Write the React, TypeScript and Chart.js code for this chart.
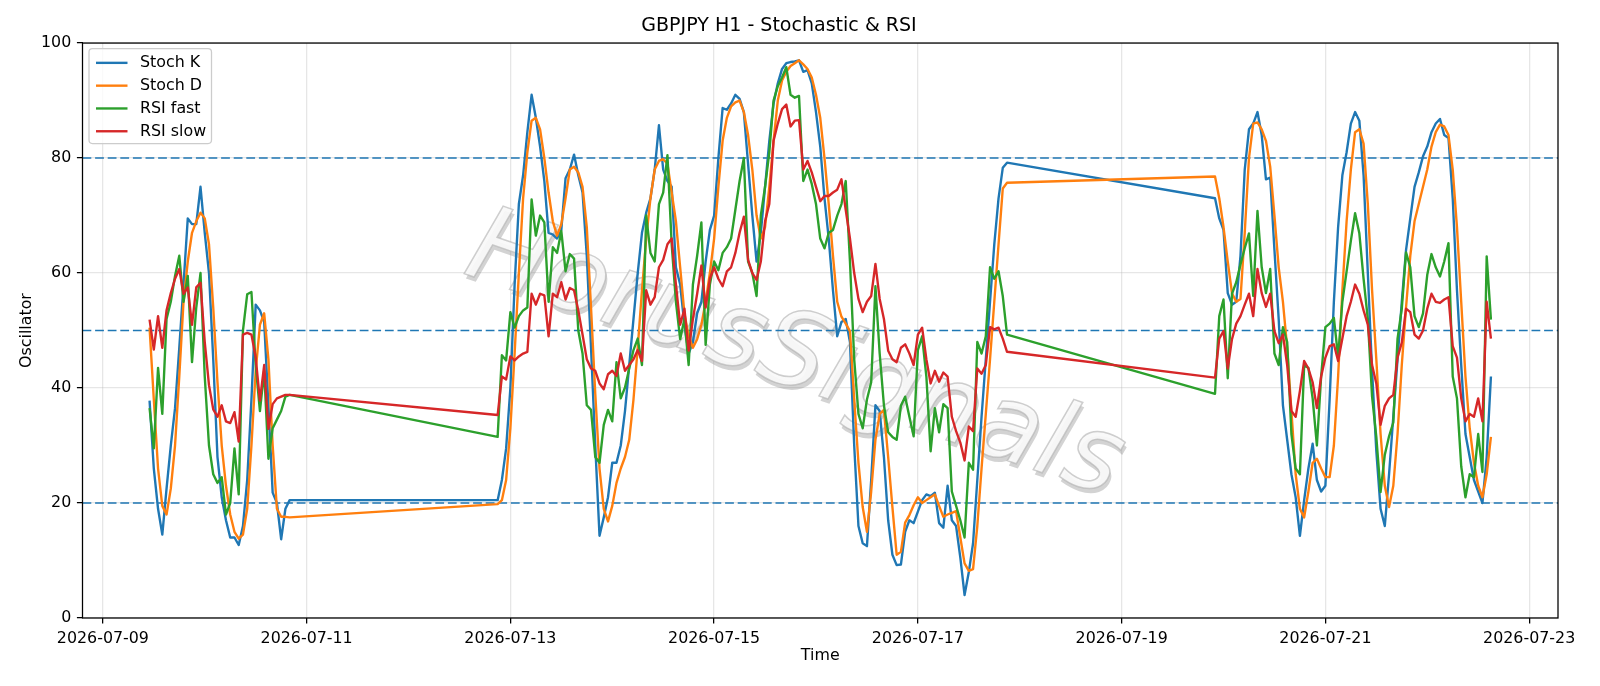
import React, { useEffect, useRef } from 'react';
import { Chart, registerables } from 'chart.js';

Chart.register(...registerables);

const TITLE = 'GBPJPY H1 - Stochastic & RSI';
const X_LABEL = 'Time';
const Y_LABEL = 'Oscillator';
const WATERMARK = 'HorusSignals';

// hourly bars, three trading stretches separated by weekends
const SEGMENT_STARTS = ['2026-07-09T11:00:00Z', '2026-07-12T21:00:00Z', '2026-07-19T22:00:00Z'];
const SEGMENT_LENGTHS = [34, 121, 66];

const X_TICK_DATES = ['2026-07-09', '2026-07-11', '2026-07-13', '2026-07-15', '2026-07-17', '2026-07-19', '2026-07-21', '2026-07-23'];
const Y_TICKS = [0, 20, 40, 60, 80, 100];
const LEVELS = [20, 50, 80];

const SERIES_NAMES = ['Stoch K', 'Stoch D', 'RSI fast', 'RSI slow'];
const SERIES_COLORS = ['#1f77b4', '#ff7f0e', '#2ca02c', '#d62728'];

const STOCH_K = [
  37.8, 26, 19, 14.5, 22.5, 30, 36.5, 47, 58, 69.5,
  68.5, 68.5, 75, 67, 60, 45, 28, 21, 17, 14,
  14, 12.7, 16, 24, 38, 54.5, 53.5, 51.5, 37, 21.8,
  20, 13.7, 19, 20.5,
  20.5, 24, 29.5, 40, 58, 72, 77, 84.5, 91, 87,
  82, 76, 67, 66.7, 66, 67.5, 76.5, 78, 80.6, 77,
  74, 63, 47, 30, 14.3, 17.5, 21, 27, 27, 30,
  36, 44, 52, 60, 67, 70.5, 73, 78, 85.7, 78,
  76, 75, 61, 58, 51, 46, 48, 53, 55, 62,
  67.5, 70, 80, 88.7, 88.4, 89.5, 91, 90.3, 88, 79,
  70, 62, 67, 75, 83, 89.5, 93, 95.5, 96.5, 96.7,
  96.8, 97, 95, 95.3, 93, 88, 82, 73, 66, 57,
  49, 51.5, 52, 48, 30, 16, 13, 12.5, 24, 37,
  36, 28, 17, 11, 9.2, 9.3, 15, 17, 16.5, 18.5,
  20.5, 21.5, 21.2, 21.8, 16.5, 15.7, 23, 17, 16, 10.5,
  4, 8, 13, 24, 35, 45, 55, 65, 73, 78.3,
  79.2,
  73, 69.5, 67.5, 56.5, 54.5, 55, 63, 78, 85, 86,
  88, 84, 76.3, 76.6, 64, 52, 37, 31, 25, 21,
  14.3, 20.5, 26, 30.3, 24, 22, 23, 38, 55, 68,
  77, 81, 86, 88, 86.5, 77, 60, 43, 29, 19,
  16, 25, 35, 45, 55, 64, 69.5, 75, 77.5, 80.3,
  82, 84.5, 86, 86.8, 84, 83.5, 73, 57, 44, 32,
  28, 24, 22, 20, 28, 42,
];

const STOCH_D = [
  50.5, 38, 26, 19.5, 18, 22.5, 30, 42, 55, 62,
  67, 69, 70.5, 69.5, 65, 54, 41, 30, 23, 18,
  15, 13.8, 14.5, 19, 30, 43, 51, 53, 45, 30,
  19, 17.6, 17.6, 17.5,
  19.8, 20.5, 24, 33, 46, 60, 73, 81, 86.5, 87,
  85, 80, 74, 69, 66.5, 68.5, 73, 78, 78.5, 77.5,
  75, 68, 54, 39, 26, 19, 16.8, 19.5, 23.5, 26,
  28, 31, 38, 47, 57, 66, 73, 78, 79.5, 79.8,
  79, 74, 69, 61, 53, 49, 47, 48.5, 51, 55,
  60, 66, 75, 83, 87, 89, 89.7, 90, 88, 84,
  78, 70, 66, 68, 75, 83, 90, 93.5, 95, 96,
  96.5, 97, 96.3, 95.5, 94, 91, 87, 80, 72, 63,
  55, 52.4, 51.2, 49.9, 38, 27, 19.3, 15, 22, 31,
  35.5, 36.2, 28, 19.3, 11, 11.5, 16.6, 17.9, 19.6, 21,
  20, 20.5, 21, 21.5, 19.5, 17.6, 18, 18.3, 18.6, 14,
  9.5, 8.2, 8.5, 16, 26, 35.5, 45, 55, 65, 74.7,
  75.7,
  76.8, 73, 68, 62, 56.5, 55, 55.5, 67, 80, 86,
  86.2, 85, 83, 78.5, 70, 61, 55, 47, 36, 25,
  19, 17.5, 22, 27, 27.7, 26, 24.5, 24.5, 30, 42,
  57, 69, 78, 84.5, 85, 82.5, 72, 57, 45, 32,
  23, 19.3, 23, 32, 44, 54, 63, 69, 72, 75,
  78, 82, 84.5, 85.8, 85.5, 84, 78, 68, 55, 42,
  33, 27, 23, 21, 25, 31.5,
];

const RSI_FAST = [
  36.5, 29.5, 43.5, 35.5, 52, 55, 59.5, 63, 55, 59.5,
  44.5, 54, 60, 42, 30, 25, 23.5, 24.5, 18, 20,
  29.5, 21.5, 50, 56.3, 56.7, 44, 36, 43, 27.7, 33,
  34.5, 36, 38.5, 38.8,
  31.5, 45.7, 44.8, 53.2, 50.5, 52.5, 53.5, 54, 72.8, 66.5,
  70, 68.8, 55, 64.5, 63.5, 67.3, 60.3, 63.3, 62.5, 50,
  46, 37, 36.2, 28, 27, 33.6, 36.2, 34.2, 44.5, 38.2,
  40.1, 43.4, 46.6, 48.6, 44, 70, 63.5, 62, 72, 74,
  80.5, 65, 55, 48.5, 52, 44, 58, 63, 68.8, 47.5,
  58, 62, 60.5, 63.5, 64.5, 66, 71, 76, 80, 62,
  60, 56, 70, 75, 81, 90, 92.5, 94, 95.8, 91,
  90.5, 90.8, 76, 78, 75.5, 72, 66, 64.3, 67, 67.5,
  70, 72, 76, 62, 45, 35.5, 33, 38, 41, 57.7,
  46, 37, 32.3, 31.5, 31, 36.9, 38.5, 35, 31.6, 46.6,
  49, 42, 29, 36.5, 32.3, 37.2, 36.5, 22, 19.5, 17,
  14, 27, 25.8, 48, 46, 49, 61, 59, 60.3, 56,
  49.3,
  39, 52.5, 55.4, 41.7, 56.4, 58.4, 61.5, 64.3, 66.9, 56,
  70.8, 61, 56.5, 60.7, 46, 44, 50.6, 48, 32, 26,
  25, 44, 43.5, 38.2, 30, 42, 50.6, 51.2, 52.2, 45.4,
  55, 60.3, 65.6, 70.4, 66.9, 59, 52, 38.5, 31.5, 21.9,
  28.4, 31.6, 34, 48.6, 53.8, 63.6, 61, 52.5, 50.6, 53,
  59.7, 63.3, 61, 59.4, 62, 65.2, 42, 38.2, 26.4, 21,
  25, 24.5, 32, 25.4, 62.9, 51.9,
];

const RSI_SLOW = [
  51.9, 46.7, 52.5, 47, 53.5, 56.5, 59, 60.7, 56.4, 57.5,
  51, 57.5, 58.3, 48, 40.5, 36.3, 35, 37, 34.2, 33.9,
  35.8, 30.7, 49.3, 49.6, 49.3, 45.3, 37.8, 44, 32.9, 37.2,
  38.2, 38.5, 38.8, 38.8,
  35.3, 42, 41.5, 45.5, 44.8, 45.5, 46, 46.3, 56.4, 54.5,
  56.4, 56.1, 49, 56.4, 55.8, 58.4, 55.4, 57.4, 57, 53.5,
  49.3, 45, 43.4, 43, 40.8, 39.8, 42.4, 43, 42.1, 46,
  43, 44, 45, 46.6, 44.7, 57, 54.5, 55.8, 61, 62.3,
  65, 66, 58, 51, 53.8, 46.5, 52, 56.4, 61.3, 54,
  59, 61, 59, 57.7, 60.3, 61, 63.5, 67, 69.8, 62.3,
  60, 58.8, 62, 69, 72, 83, 86, 88.5, 89.3, 85.5,
  86.5, 86.6, 78, 79.5, 77.5, 75, 72.5, 73.4, 73.4, 74,
  74.5, 76.3, 71, 66, 60, 55.5, 53.2, 55, 56, 61.6,
  55.5, 52, 46.5, 45, 44.5, 47, 47.6, 46, 44, 49.3,
  50.5, 45, 40.8, 43, 41.1, 42.7, 42, 35, 32.5, 30.5,
  27.4, 33.3, 32.5, 43.4, 42.5, 44, 50.6, 50.2, 50.5, 48.6,
  46.3,
  41.8, 48.6, 49.9, 43.4, 48.5, 51.2, 52.5, 54.5, 56.4, 52.5,
  60.7, 56.5, 54.1, 56.4, 49.9, 47.8, 49.3, 44, 36, 35,
  39.5, 44.7, 43.4, 41, 36.5, 42, 45.3, 47.3, 47.6, 44.7,
  48.6, 52.5, 55, 58, 56.4, 53.5, 51, 44, 40.8, 33.6,
  36.9, 38.2, 38.8, 45.3, 47.9, 53.8, 53.2, 49.3, 48.6, 50,
  53.8, 56.4, 55, 54.8, 55.4, 55.8, 47.3, 45.3, 38.2, 34.2,
  35.5, 35, 38.2, 34.2, 55, 48.6,
];

const SERIES_VALUES = [STOCH_K, STOCH_D, RSI_FAST, RSI_SLOW];

const HOUR_MS = 3600 * 1000;
const TIMES: number[] = SEGMENT_STARTS.flatMap((s, i) =>
  Array.from({ length: SEGMENT_LENGTHS[i] }, (_, k) => Date.parse(s) + k * HOUR_MS)
);

const FONT_FAMILY = '"DejaVu Sans", sans-serif';
const FS = 15.87;
const LW = 2.38;
const AXIS_LW = 1.27;

const framePlugin = {
  id: 'mplFrame',
  beforeDatasetsDraw(chart: any) {
    const { ctx, chartArea: ca, scales } = chart;
    ctx.save();
    ctx.beginPath();
    ctx.rect(ca.left, ca.top, ca.right - ca.left, ca.bottom - ca.top);
    ctx.clip();
    // watermark
    const cx = (ca.left + ca.right) / 2 - 26;
    const cy = (ca.top + ca.bottom) / 2 + 28;
    ctx.save();
    ctx.translate(cx, cy);
    ctx.rotate((19 * Math.PI) / 180);
    ctx.font = 'italic 105px "DejaVu Sans", sans-serif';
    ctx.textAlign = 'center';
    ctx.textBaseline = 'middle';
    ctx.fillStyle = 'rgba(120,120,120,0.33)';
    ctx.fillText(WATERMARK, 3, 4);
    ctx.fillStyle = 'rgba(248,248,248,0.92)';
    ctx.fillText(WATERMARK, 0, 0);
    ctx.lineWidth = 1.5;
    ctx.strokeStyle = 'rgba(175,175,175,0.6)';
    ctx.strokeText(WATERMARK, 0, 0);
    ctx.restore();
    // reference levels
    ctx.strokeStyle = '#1f77b4';
    ctx.lineWidth = 1.4;
    ctx.setLineDash([8.8, 3.8]);
    LEVELS.forEach((lv) => {
      const y = scales.y.getPixelForValue(lv);
      ctx.beginPath();
      ctx.moveTo(ca.left, y);
      ctx.lineTo(ca.right, y);
      ctx.stroke();
    });
    ctx.restore();
  },
  afterDatasetsDraw(chart: any) {
    const { ctx, chartArea: ca } = chart;
    ctx.save();
    ctx.strokeStyle = '#000';
    ctx.lineWidth = AXIS_LW;
    ctx.strokeRect(ca.left, ca.top, ca.right - ca.left, ca.bottom - ca.top);
    // legend
    const x0 = ca.left + 6.5;
    const y0 = ca.top + 5.5;
    const w = 122.5;
    const h = 95;
    const r = 3.5;
    ctx.beginPath();
    ctx.moveTo(x0 + r, y0);
    ctx.lineTo(x0 + w - r, y0);
    ctx.quadraticCurveTo(x0 + w, y0, x0 + w, y0 + r);
    ctx.lineTo(x0 + w, y0 + h - r);
    ctx.quadraticCurveTo(x0 + w, y0 + h, x0 + w - r, y0 + h);
    ctx.lineTo(x0 + r, y0 + h);
    ctx.quadraticCurveTo(x0, y0 + h, x0, y0 + h - r);
    ctx.lineTo(x0, y0 + r);
    ctx.quadraticCurveTo(x0, y0, x0 + r, y0);
    ctx.closePath();
    ctx.fillStyle = 'rgba(255,255,255,0.8)';
    ctx.fill();
    ctx.strokeStyle = '#cccccc';
    ctx.lineWidth = 1.27;
    ctx.stroke();
    ctx.font = `${FS}px ${FONT_FAMILY}`;
    ctx.textBaseline = 'middle';
    ctx.textAlign = 'left';
    chart.data.datasets.forEach((ds: any, i: number) => {
      const yy = y0 + 14.3 + i * 22.8;
      ctx.strokeStyle = ds.borderColor;
      ctx.lineWidth = LW;
      ctx.beginPath();
      ctx.moveTo(x0 + 7, yy);
      ctx.lineTo(x0 + 38.5, yy);
      ctx.stroke();
      ctx.fillStyle = '#000';
      ctx.fillText(ds.label, x0 + 51, yy + 0.5);
    });
    ctx.restore();
  },
};

export default function App() {
  const ref = useRef<HTMLCanvasElement>(null);
  useEffect(() => {
    const t0 = TIMES[0];
    const t1 = TIMES[TIMES.length - 1];
    const pad = (t1 - t0) * 0.05;
    const datasets = SERIES_VALUES.map((vals, i) => ({
      label: SERIES_NAMES[i],
      data: vals.map((y, j) => ({ x: TIMES[j], y })),
      borderColor: SERIES_COLORS[i],
      backgroundColor: SERIES_COLORS[i],
      borderWidth: LW,
      pointRadius: 0,
      tension: 0,
      fill: false,
      borderJoinStyle: 'round' as const,
      order: 4 - i,
    }));
    const tickFont = { family: FONT_FAMILY, size: FS };
    const gridCfg = {
      color: 'rgba(176,176,176,0.32)',
      lineWidth: AXIS_LW,
      tickColor: '#000',
      tickLength: 5.6,
      tickWidth: AXIS_LW,
      drawTicks: true,
    };
    const chart = new Chart(ref.current as HTMLCanvasElement, {
      type: 'line',
      data: { datasets },
      plugins: [framePlugin],
      options: {
        animation: false,
        responsive: false,
        devicePixelRatio: 1,
        layout: { padding: { left: 0, right: 42, top: 0, bottom: 0 } },
        plugins: {
          legend: { display: false },
          tooltip: { enabled: false },
          title: {
            display: true,
            text: TITLE,
            color: '#000',
            font: { family: FONT_FAMILY, size: 19.05, weight: 'normal', lineHeight: 1.2 },
            padding: { top: 15.1, bottom: 5.1 },
          },
        },
        scales: {
          x: {
            type: 'linear',
            min: t0 - pad,
            max: t1 + pad,
            afterBuildTicks: (scale: any) => {
              scale.ticks = X_TICK_DATES.map((d) => ({ value: Date.parse(d + 'T00:00:00Z') }));
            },
            afterFit: (scale: any) => {
              scale.height = 68;
            },
            ticks: {
              autoSkip: false,
              maxRotation: 0,
              minRotation: 0,
              color: '#000',
              font: tickFont,
              padding: 5.6,
              callback: (v: any) => new Date(Number(v)).toISOString().slice(0, 10),
            },
            grid: gridCfg,
            border: { display: false },
            title: {
              display: true,
              text: X_LABEL,
              color: '#000',
              font: tickFont,
              padding: { top: 0, bottom: 20.5 },
            },
          },
          y: {
            type: 'linear',
            min: 0,
            max: 100,
            afterBuildTicks: (scale: any) => {
              scale.ticks = Y_TICKS.map((v) => ({ value: v }));
            },
            afterFit: (scale: any) => {
              scale.width = 82.5;
            },
            ticks: { color: '#000', font: tickFont, padding: 5.6 },
            grid: gridCfg,
            border: { display: false },
            title: {
              display: true,
              text: Y_LABEL,
              color: '#000',
              font: tickFont,
              padding: { top: 17, bottom: 0 },
            },
          },
        },
      } as any,
    });
    return () => chart.destroy();
  }, []);
  return (
    <div style={{ position: 'absolute', left: 0, top: 0, width: 1600, height: 686, background: '#fff' }}>
      <canvas ref={ref} width={1600} height={686} style={{ display: 'block' }} />
    </div>
  );
}
